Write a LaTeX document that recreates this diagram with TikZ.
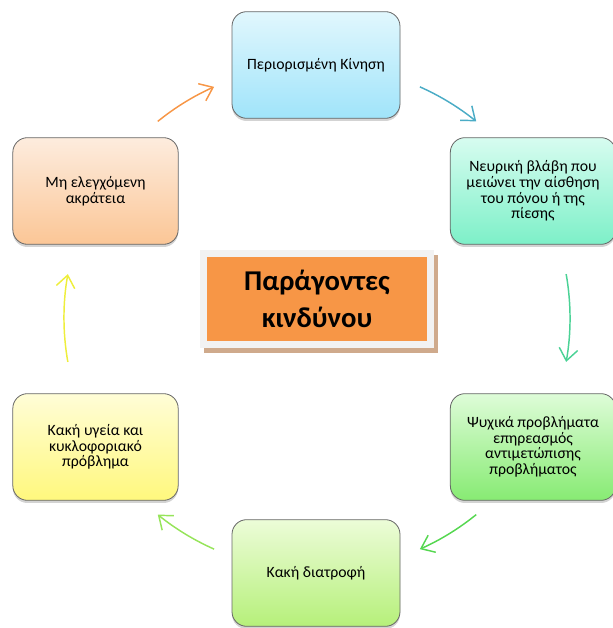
\documentclass[tikz,border=0pt]{standalone}
\usepackage{fontspec}
\setmainfont{Carlito}
\usetikzlibrary{arrows.meta,shadows}

\definecolor{accorange}{RGB}{247,150,70}
\definecolor{framegray}{RGB}{242,242,242}
\definecolor{shadowtan}{RGB}{207,170,140}
\definecolor{arrblue}{RGB}{75,172,198}
\definecolor{arrteal}{RGB}{75,210,150}
\definecolor{arrgreen}{RGB}{85,215,80}
\definecolor{arrlime}{RGB}{150,228,90}
\definecolor{arryellow}{RGB}{238,238,60}
% box gradients, top and bottom
\definecolor{topT}{RGB}{225,247,253}
\definecolor{topB}{RGB}{160,228,250}
\definecolor{rtopT}{RGB}{215,252,240}
\definecolor{rtopB}{RGB}{125,240,200}
\definecolor{rbotT}{RGB}{222,252,216}
\definecolor{rbotB}{RGB}{135,235,115}
\definecolor{botT}{RGB}{236,252,216}
\definecolor{botB}{RGB}{182,240,122}
\definecolor{lbotT}{RGB}{255,253,215}
\definecolor{lbotB}{RGB}{255,248,125}
\definecolor{ltopT}{RGB}{253,236,222}
\definecolor{ltopB}{RGB}{251,198,150}

\begin{document}
\begin{tikzpicture}[x=0.75pt,y=0.75pt,
    box/.style={draw=gray!80!black, line width=0.6pt, rounded corners=11pt,
        minimum width=124pt, minimum height=80pt, align=center,
        font=\fontsize{11.8}{11.7}\selectfont,
        drop shadow={shadow xshift=0pt, shadow yshift=-2pt, opacity=0.35}},
    cyc/.style={line width=1.1pt, -{Straight Barb[length=9pt,width=14pt]}}]
    \useasboundingbox (0,0) rectangle (613,628);

    % the six factors
    \node[box, top color=topT, bottom color=topB, minimum width=126pt] (top) at (316,563) {Περιορισμένη Κίνηση};
    \node[box, top color=rtopT, bottom color=rtopB] (rtop) at (533,437) {Νευρική βλάβη που\\μειώνει την αίσθηση\\του πόνου ή της\\πίεσης};
    \node[box, top color=rbotT, bottom color=rbotB] (rbot) at (533,181) {Ψυχικά προβλήματα\\επηρεασμός\\αντιμετώπισης\\προβλήματος};
    \node[box, top color=botT, bottom color=botB, minimum width=126pt] (bot) at (316,55) {Κακή διατροφή};
    \node[box, top color=lbotT, bottom color=lbotB] (lbot) at (95.5,181) {Κακή υγεία και\\κυκλοφοριακό\\πρόβλημα};
    \node[box, top color=ltopT, bottom color=ltopB] (ltop) at (95.5,437) {Μη ελεγχόμενη\\ακράτεια};

    % centre label
    \node[fill=framegray, minimum width=176pt, minimum height=73.5pt,
        drop shadow={fill=shadowtan, shadow xshift=3pt, shadow yshift=-4pt, opacity=1}] (frame) at (317,329) {};
    \node[fill=accorange, minimum width=165pt, minimum height=63pt, align=center,
        font=\bfseries\fontsize{21.5}{27.5}\selectfont] (ctr) at (317,329) {Παράγοντες\\κινδύνου};

    % cycle arrows round the hub
    \coordinate (hub) at (317,310);
    \draw[cyc, arrblue] ([shift={(66:189.75pt)}]hub) arc[start angle=66, end angle=51, radius=189.75pt];
    \draw[cyc, arrteal] ([shift={(10:189.75pt)}]hub) arc[start angle=10, end angle=-10, radius=189.75pt];
    \draw[cyc, arrgreen] ([shift={(-51:189.75pt)}]hub) arc[start angle=-51, end angle=-66, radius=189.75pt];
    \draw[cyc, arrlime] ([shift={(-114:189.75pt)}]hub) arc[start angle=-114, end angle=-129, radius=189.75pt];
    \draw[cyc, arryellow] ([shift={(190:189.75pt)}]hub) arc[start angle=190, end angle=170, radius=189.75pt];
    \draw[cyc, accorange] ([shift={(129:189.75pt)}]hub) arc[start angle=129, end angle=114, radius=189.75pt];
\end{tikzpicture}
\end{document}
